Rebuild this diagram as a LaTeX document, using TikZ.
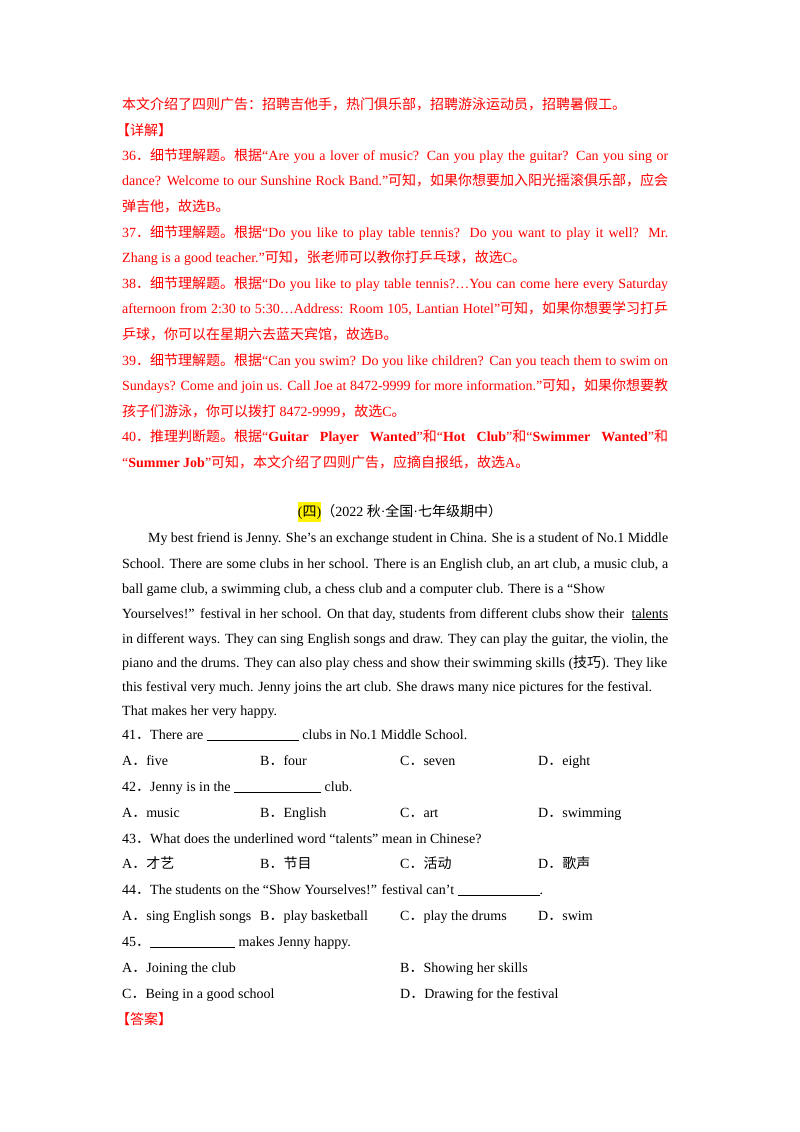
\documentclass[tikz,border=0pt]{standalone}
\usepackage{fontspec}
\setmainfont{Liberation Serif}
\newfontfamily\cjk{Noto Sans CJK SC}
\usetikzlibrary{positioning}
% switch to the CJK font automatically
\XeTeXinterchartokenstate=1
\newXeTeXintercharclass\cjkclass
\newcount\cc
\cc="4E00 \loop \XeTeXcharclass\cc=\cjkclass \advance\cc 1 \ifnum\cc<"A000 \repeat
\cc="3000 \loop \XeTeXcharclass\cc=\cjkclass \advance\cc 1 \ifnum\cc<"3040 \repeat
\cc="FF00 \loop \XeTeXcharclass\cc=\cjkclass \advance\cc 1 \ifnum\cc<"FFF0 \repeat
\XeTeXinterchartoks 0 \cjkclass = {\begingroup\cjk}
\XeTeXinterchartoks 4095 \cjkclass = {\begingroup\cjk}
\XeTeXinterchartoks \cjkclass 0 = {\endgroup}
\XeTeXinterchartoks \cjkclass 4095 = {\endgroup}
\definecolor{ansred}{RGB}{255,0,0}
\newcommand{\jl}[1]{\hbox to 546pt{#1}}
\newcommand{\blank}[1]{\underline{\hbox to #1pt{}}}
\tikzset{
  txt/.style={anchor=base west, inner sep=0pt, font=\fontsize{14}{16}\selectfont},
  ans/.style={txt, text=ansred},
}
\begin{document}
\begin{tikzpicture}[x=1pt,y=-1pt]
\useasboundingbox (0,0) rectangle (800,1132);
% answer notes
\node (a1) [ans] at (122,109) {本文介绍了四则广告：招聘吉他手，热门俱乐部，招聘游泳运动员，招聘暑假工。};
\node (a2) [ans] at (116,135) {【详解】};
\node (a3) [ans] at (122,160) {\jl{36．细节理解题。根据“Are you a lover of music? Can you play the guitar? Can you sing or}};
\node (a4) [ans] at (122,185) {\jl{dance? Welcome to our Sunshine Rock Band.”可知，如果你想要加入阳光摇滚俱乐部，应会}};
\node (a5) [ans] at (122,211) {弹吉他，故选B。};
\node (a6) [ans] at (122,237) {\jl{37．细节理解题。根据“Do you like to play table tennis? Do you want to play it well? Mr.}};
\node (a7) [ans] at (122,262) {Zhang is a good teacher.”可知，张老师可以教你打乒乓球，故选C。};
\node (a8) [ans] at (122,288) {\jl{38．细节理解题。根据“Do you like to play table tennis?…You can come here every Saturday}};
\node (a9) [ans] at (122,313) {\jl{afternoon from 2:30 to 5:30…Address: Room 105, Lantian Hotel”可知，如果你想要学习打乒}};
\node (a10) [ans] at (122,339) {乒球，你可以在星期六去蓝天宾馆，故选B。};
\node (a11) [ans] at (122,365) {\jl{39．细节理解题。根据“Can you swim? Do you like children? Can you teach them to swim on}};
\node (a12) [ans] at (122,390) {\jl{Sundays? Come and join us. Call Joe at 8472-9999 for more information.”可知，如果你想要教}};
\node (a13) [ans] at (122,416) {孩子们游泳，你可以拨打 8472-9999，故选C。};
\node (a14) [ans] at (122,441) {\jl{40．推理判断题。根据“\textbf{Guitar Player Wanted}”和“\textbf{Hot Club}”和“\textbf{Swimmer Wanted}”和}};
\node (a15) [ans] at (122,467) {“\textbf{Summer Job}”可知，本文介绍了四则广告，应摘自报纸，故选A。};
% passage
\node (hd) [txt, anchor=base] at (400,516) {\colorbox{yellow}{\hspace{-3pt}(四)\hspace{-3pt}}（2022 秋·全国·七年级期中）};
\node (p1) [txt] at (148,542) {\hbox to 520pt{My best friend is Jenny. She’s an exchange student in China. She is a student of No.1 Middle}};
\node (p2) [txt] at (122,568) {\jl{School. There are some clubs in her school. There is an English club, an art club, a music club, a}};
\node (p3) [txt] at (122,593) {ball game club, a swimming club, a chess club and a computer club. There is a “Show};
\node (p4) [txt] at (122,618) {\jl{Yourselves!” festival in her school. On that day, students from different clubs show their \ \underline{talents}}};
\node (p5) [txt] at (122,643) {\jl{in different ways. They can sing English songs and draw. They can play the guitar, the violin, the}};
\node (p6) [txt] at (122,667) {piano and the drums. They can also play chess and show their swimming skills (技巧). They like};
\node (p7) [txt] at (122,691) {this festival very much. Jenny joins the art club. She draws many nice pictures for the festival.};
\node (p8) [txt] at (122,715) {That makes her very happy.};
% questions
\node (q41) [txt] at (122,739) {41．There are \blank{92} clubs in No.1 Middle School.};
\node (o41a) [txt] at (122,765) {A．five};
\node (o41b) [txt] at (260,765) {B．four};
\node (o41c) [txt] at (400,765) {C．seven};
\node (o41d) [txt] at (538,765) {D．eight};
\node (q42) [txt] at (122,791) {42．Jenny is in the \blank{87} club.};
\node (o42a) [txt] at (122,817) {A．music};
\node (o42b) [txt] at (260,817) {B．English};
\node (o42c) [txt] at (400,817) {C．art};
\node (o42d) [txt] at (538,817) {D．swimming};
\node (q43) [txt] at (122,843) {43．What does the underlined word “talents” mean in Chinese?};
\node (o43a) [txt] at (122,868) {A．才艺};
\node (o43b) [txt] at (260,868) {B．节目};
\node (o43c) [txt] at (400,868) {C．活动};
\node (o43d) [txt] at (538,868) {D．歌声};
\node (q44) [txt] at (122,894) {44．The students on the “Show Yourselves!” festival can’t \blank{82}.};
\node (o44a) [txt] at (122,920) {A．sing English songs};
\node (o44b) [txt] at (260,920) {B．play basketball};
\node (o44c) [txt] at (400,920) {C．play the drums};
\node (o44d) [txt] at (538,920) {D．swim};
\node (q45) [txt] at (122,946) {45．\blank{85} makes Jenny happy.};
\node (o45a) [txt] at (122,972) {A．Joining the club};
\node (o45b) [txt] at (400,972) {B．Showing her skills};
\node (o45c) [txt] at (122,998) {C．Being in a good school};
\node (o45d) [txt] at (400,998) {D．Drawing for the festival};
\node (key) [ans] at (116,1024) {【答案】};
\end{tikzpicture}
\end{document}
